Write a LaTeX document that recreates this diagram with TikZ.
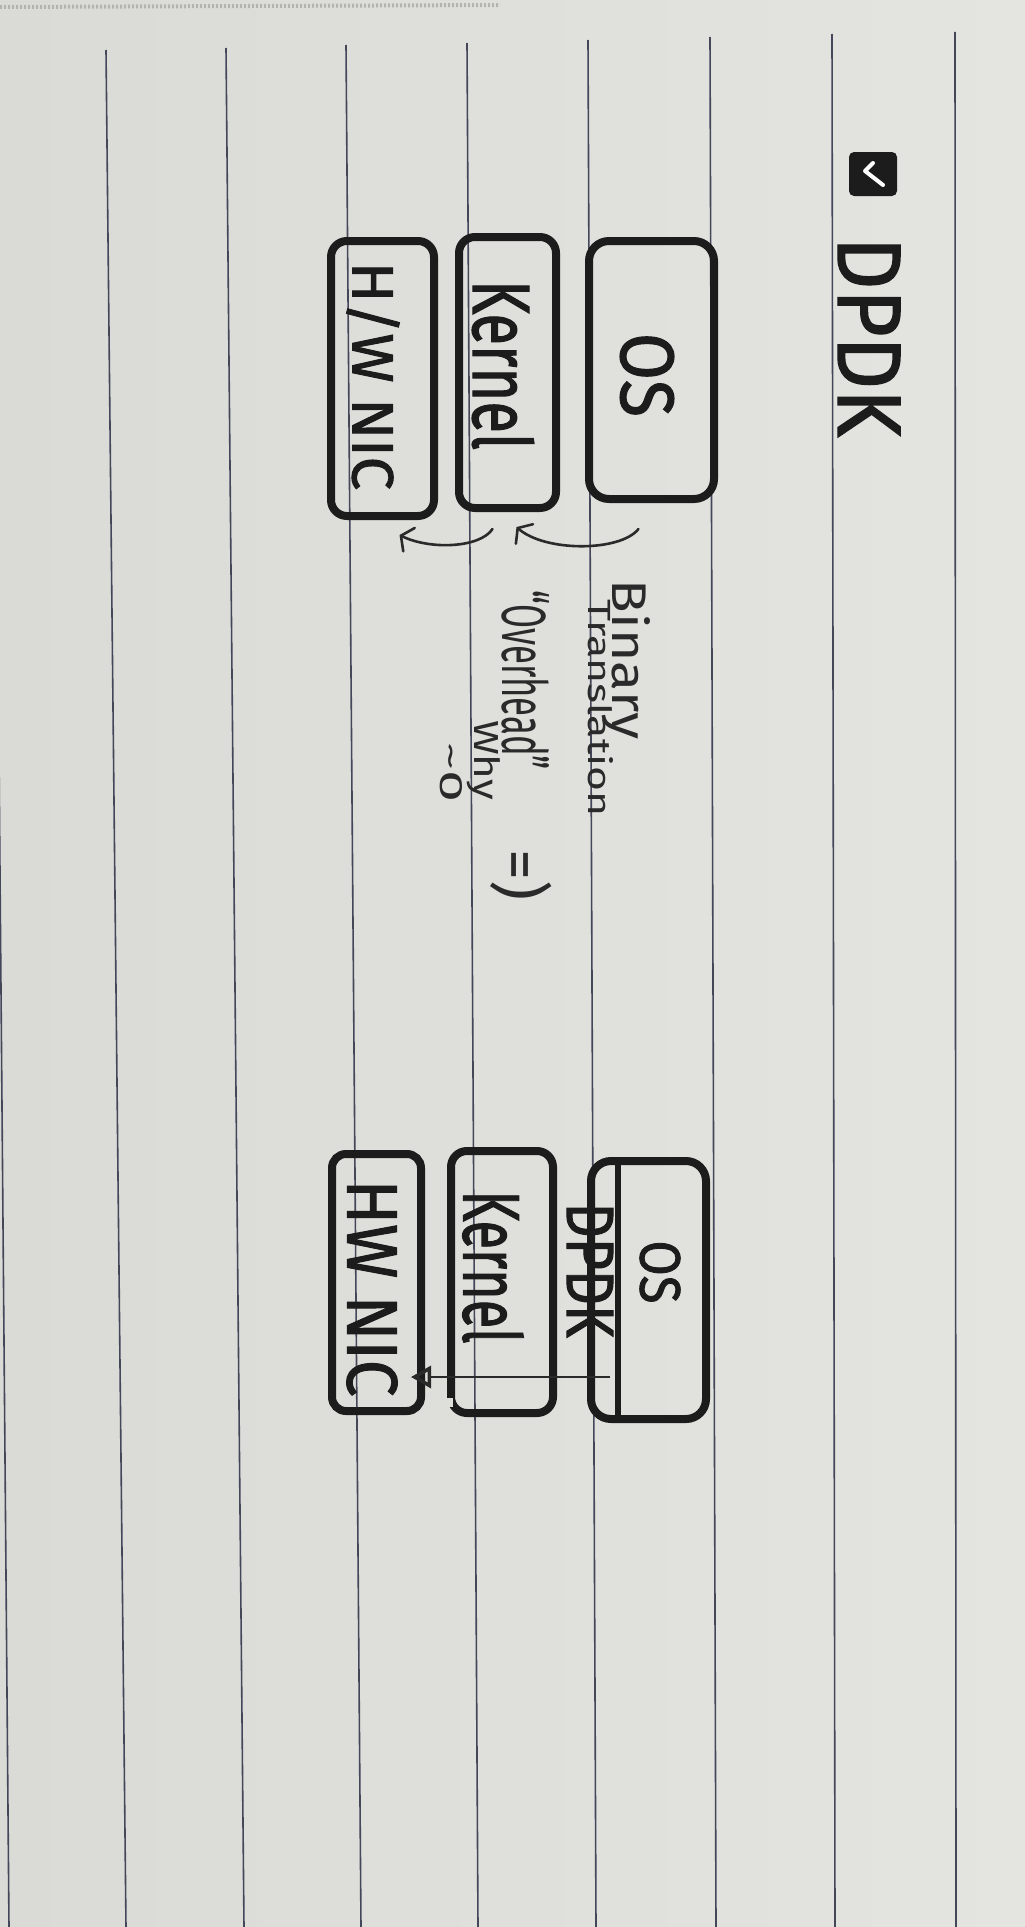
\documentclass[tikz,border=0pt]{standalone}
\usepackage{graphicx}
\usepackage{fontspec}
\setmainfont{Fira Sans}
\newfontfamily\markerfont[FakeBold=1.6]{Fira Sans}
\usetikzlibrary{arrows.meta,calc}
\definecolor{paper}{HTML}{E4E4E0}
\definecolor{paperdark}{HTML}{DADAD6}
\definecolor{rulecol}{HTML}{44465A}
\definecolor{ink}{HTML}{1C1C1C}
\definecolor{pencol}{HTML}{2A2A2A}
\definecolor{perfcol}{HTML}{B4B4AF}
\newcommand\hwfit[3]{\resizebox{#1pt}{#2pt}{#3}}
\begin{document}
\begin{tikzpicture}[x=1pt,y=-1pt,
  rulel/.style={draw=rulecol,line width=1.6pt},
  boxnode/.style={draw=ink,line width=8pt,rounded corners=20pt,inner sep=0pt},
  marker/.style={rotate=-90,inner sep=0pt,text=ink,font=\markerfont},
  pentext/.style={rotate=-90,inner sep=0pt,text=pencol},
  penarrow/.style={draw=pencol,line width=2.6pt,line cap=round,-{Straight Barb[length=9pt,width=26pt,line cap=round]}},
]
\useasboundingbox (0,0) rectangle (1025,1927);
\clip (0,0) rectangle (1025,1927);
% paper
\shade[left color=paperdark,right color=paper] (0,0) rectangle (1025,1927);
\draw[perfcol,line width=4pt,dash pattern=on 2pt off 2pt] (0,7) -- (500,5);
% ruled lines
\draw[rulel] (-7,50) -- (9,1927);
\draw[rulel] (106,50) -- (126,1927);
\draw[rulel] (226,48) -- (244,1927);
\draw[rulel] (346,45) -- (361,1927);
\draw[rulel] (467,43) -- (478,1927);
\draw[rulel] (588,40) -- (596,1927);
\draw[rulel] (710,37) -- (716,1927);
\draw[rulel] (832,34) -- (835,1927);
\draw[rulel] (955,32) -- (956,1927);

% title
\node[fill=ink,rounded corners=5pt,minimum width=48pt,minimum height=44pt,inner sep=0pt] (chk) at (873,174) {};
\draw[white,line width=4pt,line cap=round,line join=round] ($(chk.center)+(0,-11)$) -- ($(chk.center)+(-8,-3)$) -- ($(chk.center)+(10,11)$);
\node[marker] (tdpdk) at (869,337) {\hwfit{200}{62}{DPDK}};

% left stack
\node[boxnode,minimum width=125pt,minimum height=258pt] (os1) at (651.5,370) {};
\node[boxnode,minimum width=97pt,minimum height=271pt,rounded corners=16pt] (kern1) at (507.5,372.5) {};
\node[boxnode,minimum width=103pt,minimum height=275pt,rounded corners=16pt] (nic1) at (382.5,378.5) {};
\node[marker] (tos1) at (647,375) {\hwfit{84}{53}{OS}};
\node[marker] (tkern1) at (503,365) {\hwfit{170}{61}{Kernel}};
\node[marker] (tnic1) at (373,376) {\hwfit{228}{47}{H/W NIC}};

\draw[penarrow] ([shift={(-13,26)}]os1.south) .. controls (620,552) and (545,552) .. ([shift={(9,15)}]kern1.south);
\draw[penarrow] ([shift={(-15,17)}]kern1.south) .. controls (480,548) and (430,550) .. ([shift={(17,15)}]nic1.south);

\node[pentext] (tbin) at (626,660) {\hwfit{160}{38}{Binary}};
\node[pentext] (ttrans) at (601,708) {\hwfit{217}{25}{Translation}};
\node[pentext] (tover) at (526,680) {\hwfit{180}{47}{“Overhead”}};
\node[pentext] (tsmile) at (521,875) {\fontsize{62}{62}\selectfont =)};
\node[pentext] (twhy) at (484,760) {\hwfit{80}{26}{Why}};
\node[pentext] (tzero) at (451,772) {\hwfit{60}{22}{\textasciitilde0}};

% right stack
\node[boxnode,minimum width=115pt,minimum height=258pt] (os2) at (648.5,1290) {};
\draw[ink,line width=6pt] ([xshift=31pt]os2.north west) -- ([xshift=31pt]os2.south west);
\node[marker] (tos2) at (660,1272) {\hwfit{63}{40}{OS}};
\node[marker] (tdpdk2) at (590,1270) {\hwfit{135}{46}{DPDK}};
\node[boxnode,minimum width=102pt,minimum height=262pt,rounded corners=16pt] (kern2) at (502,1282) {};
\fill[paperdark!60!paper] (442,1398) rectangle (453,1407);
\node[marker] (tkern2) at (493,1267) {\hwfit{153}{60}{Kernel}};
\node[boxnode,minimum width=89pt,minimum height=257pt,rounded corners=14pt] (nic2) at (376.5,1282.5) {};
\node[marker] (tnic2) at (372,1288) {\hwfit{217}{50}{HW NIC}};

\coordinate (a3s) at (610,1377);
\draw[pencol,line width=2.4pt,-{Triangle[open,length=20pt,width=22pt,line width=3.5pt]},shorten >=-14pt] (a3s) -- (a3s -| nic2.east);
\end{tikzpicture}
\end{document}
